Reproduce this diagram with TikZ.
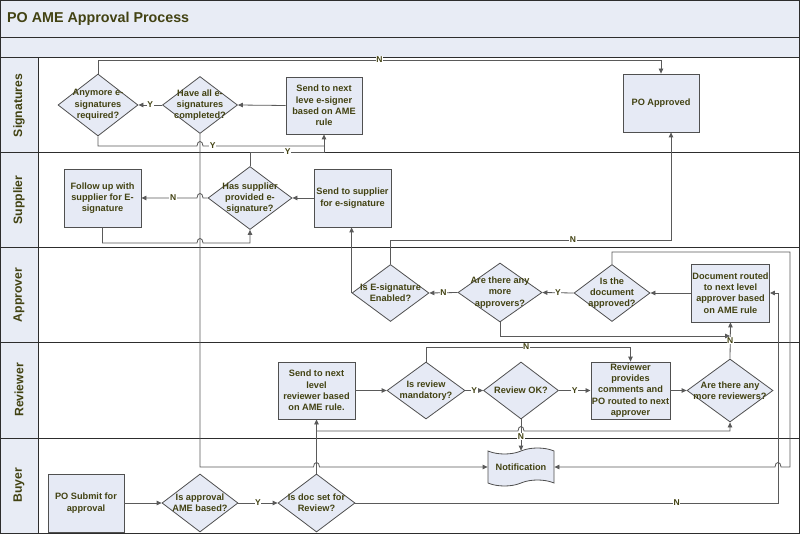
\documentclass[tikz,border=0pt]{standalone}
\usepackage{fontspec}
\setmainfont{Liberation Sans}
\usetikzlibrary{shapes.geometric,shapes.symbols,arrows.meta}
\definecolor{bandfill}{RGB}{232,236,245}
\definecolor{nodefill}{RGB}{230,234,245}
\definecolor{txt}{RGB}{66,66,18}
\definecolor{conncol}{RGB}{90,90,90}
\definecolor{boxcol}{RGB}{80,80,80}
\definecolor{lanecol}{RGB}{45,45,45}
\newcommand{\myNodeFont}{\bfseries\fontsize{9.2}{11.3}\selectfont}
\newcommand{\myLabFont}{\bfseries\fontsize{8.5}{9}\selectfont}
\newcommand{\myLaneFont}{\bfseries\fontsize{12.2}{14}\selectfont}
\newcommand{\myTitleFont}{\bfseries\fontsize{14.3}{16}\selectfont}
\begin{document}
\begin{tikzpicture}[x=1pt,y=-1pt,
 box/.style={draw=boxcol, fill=nodefill, line width=0.8pt, minimum width=77pt, minimum height=58pt, align=center, font=\myNodeFont, text=txt, inner sep=1pt},
 dia/.style={diamond, draw=boxcol, fill=nodefill, line width=0.8pt, inner sep=0pt},
 dtext/.style={align=center, font=\myNodeFont, text=txt, inner sep=0pt},
 conn/.style={draw=conncol, line width=0.8pt},
 arr/.style={conn, -{Triangle[length=5pt,width=4.5pt]}},
 lab/.style={fill=white, inner sep=0.6pt, font=\myLabFont, text=txt},
 lane/.style={draw=lanecol, line width=1pt},
 lanetxt/.style={rotate=90, font=\myLaneFont, text=txt, inner sep=0pt}]
% background and lanes
\useasboundingbox (0,0) rectangle (800,534);
\fill[white] (0,0) rectangle (800,534);
\fill[bandfill] (0,0) rectangle (800,58);
\fill[bandfill] (0,58) rectangle (38,533);
\draw[lane] (0.5,0.5) rectangle (799.5,533);
\draw[lane] (0,38) -- (800,38);
\draw[lane] (0,58) -- (800,58);
\foreach \yy in {153,248,343,438} \draw[lane] (0,\yy) -- (800,\yy);
\draw[lane] (38,58) -- (38,533);
\node[anchor=west, font=\myTitleFont, text=txt, inner sep=0pt] (title) at (7,19) {PO AME Approval Process};
\node[lanetxt] (lsig) at (19,105.5) {Signatures};
\node[lanetxt] (lsup) at (19,200) {Supplier};
\node[lanetxt] (lapp) at (19,295) {Approver};
\node[lanetxt] (lrev) at (19,390) {Reviewer};
\node[lanetxt] (lbuy) at (19,485) {Buyer};
% Signatures lane
\node[dia, minimum width=80pt, minimum height=62pt, label={[dtext]center:Anymore e-\\signatures\\required?}] (d1) at (98,105) {};
\node[dia, minimum width=75pt, minimum height=57pt, label={[dtext]center:Have all e-\\signatures\\completed?}] (d2) at (200,105) {};
\node[box, minimum width=76pt, minimum height=57pt] (b1) at (324,105.5) {Send to next\\leve e-signer\\based on AME\\rule};
\node[box, minimum width=76pt] (b2) at (661,103) {PO Approved};
% Supplier lane
\node[box] (b3) at (102.5,198) {Follow up with\\supplier for E-\\signature};
\node[dia, minimum width=84pt, minimum height=63pt, label={[dtext]center:Has supplier\\provided e-\\signature?}] (d3) at (250,198) {};
\node[box] (b4) at (352.5,198) {Send to supplier\\for e-signature};
% Approver lane
\node[dia, minimum width=77pt, minimum height=57pt, label={[dtext]center:Is E-signature\\Enabled?}] (d4) at (390.5,293) {};
\node[dia, minimum width=84pt, minimum height=59pt, label={[dtext]center:Are there any\\more\\approvers?}] (d5) at (500,292.5) {};
\node[dia, minimum width=76pt, minimum height=57pt, label={[dtext]center:Is the\\document\\approved?}] (d6) at (612,293) {};
\node[box] (b5) at (730.5,293) {Document routed\\to next level\\approver based\\on AME rule};
% Reviewer lane
\node[box, minimum height=57pt] (b6) at (316.5,390.5) {Send to next\\level\\reviewer based\\on AME rule.};
\node[dia, minimum width=78pt, minimum height=57pt, label={[dtext]center:Is review\\mandatory?}] (d7) at (426,390.5) {};
\node[dia, minimum width=75pt, minimum height=57pt, label={[dtext]center:Review OK?}] (d8) at (521,390.5) {};
\node[box, minimum height=57pt] (b7) at (630.5,390.5) {Reviewer\\provides\\comments and\\PO routed to next\\approver};
\node[dia, minimum width=86pt, minimum height=63pt, label={[dtext]center:Are there any\\more reviewers?}] (d9) at (730,390.5) {};
% Buyer lane
\node[box, minimum width=76pt] (b8) at (86,503) {PO Submit for\\approval};
\node[dia, minimum width=76pt, minimum height=58pt, label={[dtext]center:Is approval\\AME based?}] (d10) at (200,503) {};
\node[dia, minimum width=77pt, minimum height=58pt, label={[dtext]center:Is doc set for\\Review?}] (d11) at (316.5,503) {};
\node[tape, draw=boxcol, fill=nodefill, line width=0.8pt, minimum width=66pt, minimum height=38pt, tape bend height=6pt, font=\myNodeFont, text=txt, inner sep=0pt] (nt) at (521,467) {Notification};
% junction coordinates
\coordinate (jA) at (730,336);
\coordinate (jB) at (316.5,431);
\coordinate (cPA) at (671,240);
% connectors: buyer
\draw[arr] (b8.east) -- (d10.west);
\draw[arr] (d10.east) -- node[lab]{Y} (d11.west);
\draw[arr] (d11.north) -- (b6.south);
\draw[arr] (d11.east) -- node[lab, pos=0.76]{N} (778,503) -- (778,293) -- (b5.east);
% approver
\draw[arr] (d6.north) -- (612,252) -- (790,252) -- (790,467) -- (781,467) .. controls (781,461) and (775,461) .. (775,467) -- (nt.east);
\draw[arr] (b5.west) -- (d6.east);
\draw[arr] (d6.west) -- node[lab]{Y} (d5.east);
\draw[arr] (d5.west) -- node[lab]{N} (d4.east);
\draw[arr] (d5.south) |- (jA);
\draw[arr] (d9.north) -- node[lab, pos=0.5]{N} (b5.south);
\draw[arr] (d4.west) -- (d4.west |- b4.south);
\draw[arr] (d4.north) -- (390.5,240) -- node[lab, pos=0.65]{N} (cPA) -- (cPA |- b2.south);
% supplier
\draw[arr] (b4.west) -- (d3.east);
\draw[arr] (d3.west) -- (203,198) .. controls (203,192) and (197,192) .. (197,198) -- node[lab, pos=0.43]{N} (b3.east);
\draw[arr] (b3.south) -- (102.5,243) -- (197,243) .. controls (197,237) and (203,237) .. (203,243) -- (250,243) -- (d3.south);
\draw[arr] (d3.north) -- (250,152) -- node[lab, pos=0.51]{Y} (324,152) -- (b1.south);
% signatures
\draw[arr] (b1.west) -- (d2.east);
\draw[arr] (d2.west) -- node[lab]{Y} (d1.east);
\draw[conn] (d1.south) -- (98,146) -- (197,146) .. controls (197,140) and (203,140) .. (203,146) -- node[lab, pos=0.08]{Y} (324,146);
\draw[arr] (d1.north) -- (98,60) -- node[lab, pos=0.5]{N} (661,60) -- (b2.north);
\draw[arr] (d2.south) -- (200,467) -- (313.5,467) .. controls (313.5,461) and (319.5,461) .. (319.5,467) -- (nt.west);
% reviewer
\draw[arr] (b6.east) -- (d7.west);
\draw[arr] (d7.east) -- node[lab]{Y} (d8.west);
\draw[arr] (d8.east) -- node[lab]{Y} (b7.west);
\draw[arr] (b7.east) -- (d9.west);
\draw[arr] (d7.north) -- (426,347) -- node[lab, pos=0.49]{N} (630.5,347) -- (b7.north);
\draw[arr] (d8.south) -- node[lab, pos=0.55]{N} (nt.north);
\draw[arr] (jB) -- (518,431) .. controls (518,425) and (524,425) .. (524,431) -- (730,431) -- (d9.south);
\end{tikzpicture}
\end{document}
